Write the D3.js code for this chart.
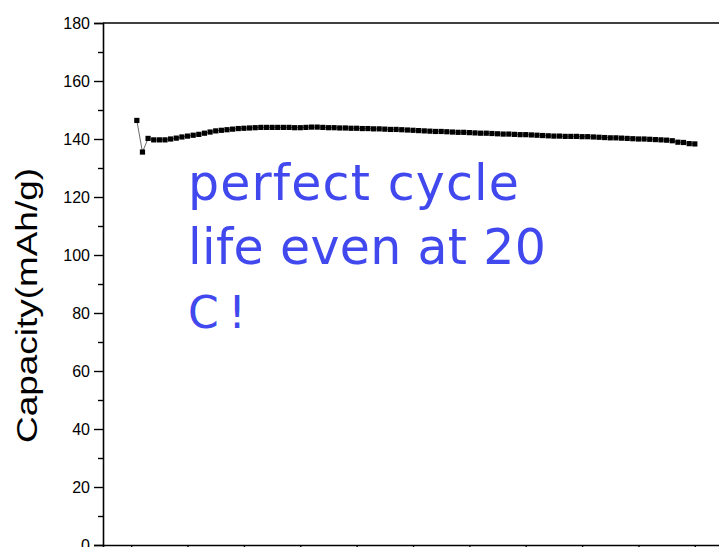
<!DOCTYPE html>
<html>
<head>
<meta charset="utf-8">
<script src="https://cdn.jsdelivr.net/npm/d3@7"></script>
<style>
  body { margin: 0; background: #fff; }
  svg { display: block; }
</style>
</head>
<body>
<div id="chart"></div>
<script>
// Cycle numbers and capacity values (mAh/g)
const cycles = d3.range(1, 101);
const capacity = [
  146.4, 135.5, 140.2, 139.7, 139.7, 139.7, 140.0, 140.3, 140.7, 141.0,
  141.3, 141.6, 142.0, 142.4, 142.8, 143.0, 143.2, 143.4, 143.6, 143.7,
  143.8, 143.9, 144.0, 144.0, 144.0, 144.0, 144.0, 144.0, 143.9, 143.9,
  144.0, 144.1, 144.1, 144.0, 143.9, 143.9, 143.8, 143.8, 143.7, 143.7,
  143.6, 143.6, 143.5, 143.5, 143.4, 143.3, 143.3, 143.2, 143.1, 143.0,
  142.9, 142.8, 142.7, 142.6, 142.6, 142.5, 142.4, 142.3, 142.3, 142.2,
  142.1, 142.0, 142.0, 141.9, 141.8, 141.7, 141.7, 141.6, 141.5, 141.5,
  141.4, 141.3, 141.2, 141.1, 141.0, 141.0, 140.9, 140.9, 140.9, 140.8,
  140.8, 140.7, 140.6, 140.5, 140.4, 140.4, 140.3, 140.2, 140.1, 140.0,
  140.0, 139.9, 139.8, 139.7, 139.6, 139.4, 138.9, 138.8, 138.4, 138.3
];
const yTicks = [0, 20, 40, 60, 80, 100, 120, 140, 160, 180];
const yMinorTicks = [10, 30, 50, 70, 90, 110, 130, 150, 170];
const xTicks = [0, 10, 20, 30, 40, 50, 60, 70, 80, 90, 100];
const annotation = ['perfect cycle', 'life even at 20', 'C !'];
const annotationWidths = [331, 358, 58];

const data = cycles.map((c, i) => ({ cycle: c, cap: capacity[i] }));

const svgWidth = 719;
const svgHeight = 547;

const svg = d3.select('#chart')
  .append('svg')
  .attr('width', svgWidth)
  .attr('height', svgHeight);

// Scales (the plot frame runs past the right and bottom edges of the picture)
const xScale = d3.scaleLinear().domain([-5, 105]).range([103, 723]);
const yScale = d3.scaleLinear().domain([0, 180]).range([545, 23]);

// Left axis with major and minor ticks
svg.append('g')
  .attr('transform', `translate(${xScale(-5)},0)`)
  .call(d3.axisLeft(yScale).tickValues(yTicks).tickSize(9).tickPadding(4))
  .call(g => g.select('.domain').attr('stroke-width', 1.6))
  .call(g => g.selectAll('.tick line').attr('stroke-width', 1.4))
  .call(g => g.selectAll('text')
    .style('font-family', 'Arial, "Liberation Sans", sans-serif')
    .style('font-size', '16px')
    .attr('fill', '#000'));

svg.append('g')
  .attr('transform', `translate(${xScale(-5)},0)`)
  .call(d3.axisLeft(yScale).tickValues(yMinorTicks).tickSize(5).tickFormat(''))
  .call(g => g.select('.domain').remove())
  .call(g => g.selectAll('.tick line').attr('stroke-width', 1.4));

// Bottom axis (its labels fall below the picture, so only the ticks show)
svg.append('g')
  .attr('transform', `translate(0,${yScale(0)})`)
  .call(d3.axisBottom(xScale).tickValues(xTicks).tickSize(9).tickFormat(''))
  .call(g => g.select('.domain').attr('stroke-width', 1.6))
  .call(g => g.selectAll('.tick line').attr('stroke-width', 1.4));

// Top frame line
svg.append('line')
  .attr('x1', xScale(-5)).attr('x2', xScale(105))
  .attr('y1', yScale(180)).attr('y2', yScale(180))
  .attr('stroke', '#000')
  .attr('stroke-width', 1.6);

// Connecting line
svg.append('path')
  .datum(data)
  .attr('fill', 'none')
  .attr('stroke', '#444')
  .attr('stroke-width', 0.8)
  .attr('d', d3.line().x(d => xScale(d.cycle)).y(d => yScale(d.cap)));

// Square markers
const sq = 5.2;
svg.selectAll('rect.pt')
  .data(data)
  .enter()
  .append('rect')
  .attr('class', 'pt')
  .attr('x', d => xScale(d.cycle) - sq / 2)
  .attr('y', d => yScale(d.cap) - sq / 2)
  .attr('width', sq)
  .attr('height', sq)
  .attr('fill', '#000');

// Y axis title
svg.append('text')
  .attr('transform', 'translate(36.5,305.5) rotate(-90)')
  .attr('text-anchor', 'middle')
  .attr('textLength', 275)
  .attr('lengthAdjust', 'spacingAndGlyphs')
  .style('font-family', 'Arial, "Liberation Sans", sans-serif')
  .style('font-size', '29px')
  .attr('fill', '#000')
  .text('Capacity(mAh/g)');

// Blue annotation
svg.append('g')
  .selectAll('text')
  .data(annotation)
  .enter()
  .append('text')
  .attr('x', 188)
  .attr('y', (d, i) => 200 + i * 64)
  .attr('textLength', (d, i) => annotationWidths[i])
  .attr('lengthAdjust', 'spacing')
  .style('font-family', '"DejaVu Sans", sans-serif')
  .style('font-size', (d, i) => i === 2 ? '44px' : '49px')
  .style('white-space', 'pre')
  .attr('fill', '#4048ee')
  .text(d => d);
</script>
</body>
</html>
